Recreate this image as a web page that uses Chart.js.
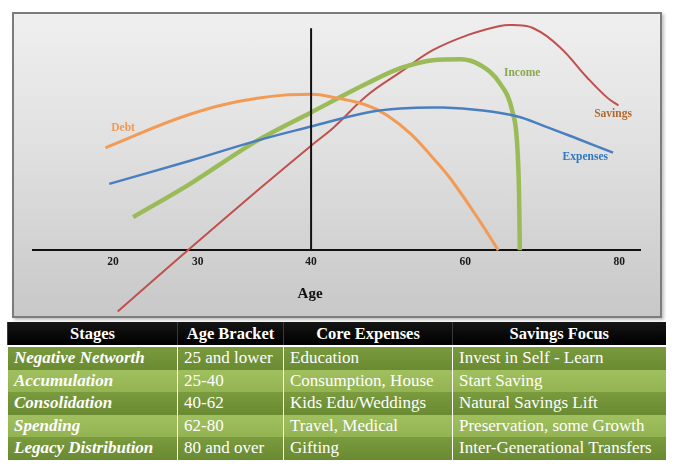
<!DOCTYPE html>
<html>
<head>
<meta charset="utf-8">
<script src="https://cdn.jsdelivr.net/npm/chart.js@4.4.1/dist/chart.umd.min.js"></script>
<style>
    html, body {
        margin: 0;
        padding: 0;
        background: #ffffff;
        width: 675px;
        height: 469px;
        overflow: hidden;
        position: relative;
    }
    .chart-box {
        position: absolute;
        left: 12px;
        top: 12px;
        width: 646px;
        height: 302px;
        border: 2px solid #7c7c7c;
        background: linear-gradient(to bottom, #efefef 0%, #e0e0e0 45%, #c8c8c8 100%);
        box-shadow: 2px 2px 3px rgba(0, 0, 0, 0.25);
    }
    #lifeChart {
        position: absolute;
        left: 0;
        top: 0;
    }
    table.stages {
        position: absolute;
        left: 7px;
        top: 322px;
        width: 658px;
        border-collapse: collapse;
        table-layout: fixed;
        font-family: "Liberation Serif", "DejaVu Serif", serif;
        font-size: 17px;
        color: #ffffff;
    }
    table.stages th {
        height: 23px;
        padding: 0;
        background: linear-gradient(to bottom, #141414, #000000);
        border-left: 1px solid #3a3a3a;
        border-bottom: 2px solid #ffffff;
        font-size: 16.5px;
        font-weight: bold;
        text-align: center;
        line-height: 23px;
    }
    table.stages td {
        height: 22.6px;
        padding: 0 0 0 6px;
        line-height: 22.6px;
        white-space: nowrap;
        overflow: hidden;
        border-left: 1px solid rgba(255, 255, 255, 0.18);
    }
    table.stages td:first-child {
        font-style: italic;
        font-weight: bold;
    }
    table.stages tr.dark td {
        background: linear-gradient(to bottom, #7a9a3e, #6a8a32);
    }
    table.stages tr.light td {
        background: linear-gradient(to bottom, #a0bf5f, #93b352);
    }
</style>
</head>
<body>
<div class="chart-box"></div>
<canvas id="lifeChart" width="675" height="322"></canvas>
<table class="stages" id="stagesTable">
    <colgroup>
        <col style="width:170px"><col style="width:106px"><col style="width:169px"><col style="width:213px">
    </colgroup>
    <thead></thead>
    <tbody></tbody>
</table>
<script>
// x axis ticks (age), placed where the original diagram puts them
const xTickValues = [14.3, 25.3, 40, 60, 80];
const xTickLabels = ['20', '30', '40', '60', '80'];
const xAxisTitle = 'Age';

// curves (age, relative level)
const savingsAge = [14.9, 24.0, 33, 40, 42.9, 47.3, 51.6, 55.8, 60.3, 64.5, 66.2, 68.8, 72.3, 75.8, 78.4, 79.9];
const savingsLevel = [-26.5, 0, 25.7, 45.2, 53, 67, 77, 86.5, 93, 97, 97.4, 96.1, 87.8, 74.8, 66.1, 62.6];

const incomeAge = [16.9, 24.3, 33, 40, 47.3, 51.6, 55.8, 59.4, 62, 64.5, 66.1, 66.75, 67.0, 67.1];
const incomeLevel = [14.3, 28.7, 47.4, 59.6, 72.2, 78.7, 82.2, 82.6, 80, 72.2, 60.4, 46.1, 24.3, 0];

const debtAge = [13.3, 24.3, 33, 40, 42.9, 47.3, 49.9, 52.9, 55.8, 58.1, 61.9, 64.3];
const debtLevel = [44.3, 58.8, 65.7, 67.4, 66.1, 62.6, 58.3, 50.4, 40, 30.9, 12.6, 0];

const expensesAge = [13.8, 24.3, 33, 40, 47.3, 51.6, 57.1, 62.3, 66.8, 70.1, 74.5, 79.2];
const expensesLevel = [28.7, 38.7, 47.4, 53.5, 59.6, 61.3, 61.7, 60.4, 57.8, 53.9, 48.3, 42.2];

// the vertical marker at age 40
const markerAge = [40, 40];
const markerLevel = [0, 96];

// table below the chart
const tableHeaders = ['Stages', 'Age Bracket', 'Core Expenses', 'Savings Focus'];
const stages = ['Negative Networth', 'Accumulation', 'Consolidation', 'Spending', 'Legacy Distribution'];
const ageBrackets = ['25 and lower', '25-40', '40-62', '62-80', '80 and over'];
const coreExpenses = ['Education', 'Consumption, House', 'Kids Edu/Weddings', 'Travel, Medical', 'Gifting'];
const savingsFocus = ['Invest in Self - Learn', 'Start Saving', 'Natural Savings Lift', 'Preservation, some Growth', 'Inter-Generational Transfers'];

const serif = '"Liberation Serif", "Times New Roman", serif';

function toPoints(xs, ys) {
    return xs.map((x, i) => ({ x: x, y: ys[i] }));
}

function curve(label, xs, ys, color, width, monotone) {
    return {
        label: label,
        data: toPoints(xs, ys),
        borderColor: color,
        backgroundColor: color,
        borderWidth: width,
        pointRadius: 0,
        tension: 0.4,
        cubicInterpolationMode: monotone ? 'monotone' : 'default',
        fill: false,
        clip: false
    };
}

// text labels next to each curve, given in data units
const curveLabels = [
    { text: 'Debt', x: 15.6, y: 53, color: '#f09a55' },
    { text: 'Income', x: 67.4, y: 76.5, color: '#8aa84f' },
    { text: 'Savings', x: 79.2, y: 59.1, color: '#b0692f' },
    { text: 'Expenses', x: 75.6, y: 40.4, color: '#2f78c0' }
];

const curveLabelPlugin = {
    id: 'curveLabels',
    afterDatasetsDraw: (chart) => {
        const { ctx } = chart;
        const xs = chart.scales.x;
        const ys = chart.scales.y;
        ctx.save();
        ctx.textAlign = 'center';
        ctx.textBaseline = 'middle';
        ctx.font = 'bold 11.5px ' + serif;
        curveLabels.forEach(l => {
            ctx.fillStyle = l.color;
            ctx.fillText(l.text, xs.getPixelForValue(l.x), ys.getPixelForValue(l.y));
        });
        // axis title sits under the age-40 marker, not centred on the axis
        ctx.font = 'bold 15px ' + serif;
        ctx.fillStyle = '#111111';
        ctx.fillText(xAxisTitle, xs.getPixelForValue(40) - 1, ys.getPixelForValue(-19.1));
        ctx.restore();
    }
};

const settings = {
    type: 'line',
    data: {
        datasets: [
            curve('Marker', markerAge, markerLevel, '#111111', 2, false),
            curve('Expenses', expensesAge, expensesLevel, '#4a7fbf', 2.5, false),
            curve('Debt', debtAge, debtLevel, '#f39b55', 3, false),
            curve('Income', incomeAge, incomeLevel, '#9bbb59', 4.5, true),
            curve('Savings', savingsAge, savingsLevel, '#c0504d', 2, false)
        ]
    },
    options: {
        responsive: false,
        animation: false,
        layout: {
            padding: { left: 33, right: 35, top: 19, bottom: 48 }
        },
        plugins: {
            legend: { display: false },
            tooltip: { enabled: false }
        },
        scales: {
            x: {
                type: 'linear',
                min: 3.9,
                max: 82.7,
                grid: { display: false, drawTicks: false },
                border: { display: true, color: '#111111', width: 2 },
                afterBuildTicks: (axis) => {
                    axis.ticks = xTickValues.map(v => ({ value: v }));
                },
                ticks: {
                    padding: 5,
                    autoSkip: false,
                    maxRotation: 0,
                    color: '#1a1a1a',
                    font: { family: serif, size: 11.5, weight: 'bold' },
                    callback: (value, index) => xTickLabels[index]
                }
            },
            y: {
                display: false,
                min: 0,
                max: 100
            }
        }
    },
    plugins: [curveLabelPlugin]
};

new Chart(document.getElementById('lifeChart').getContext('2d'), settings);

// build the table
const table = document.getElementById('stagesTable');
table.querySelector('thead').innerHTML = '<tr>' + tableHeaders.map(h => '<th>' + h + '</th>').join('') + '</tr>';
table.querySelector('tbody').innerHTML = stages.map((s, i) =>
    '<tr class="' + (i % 2 === 0 ? 'dark' : 'light') + '">' +
    '<td>' + s + '</td><td>' + ageBrackets[i] + '</td><td>' + coreExpenses[i] + '</td><td>' + savingsFocus[i] + '</td></tr>'
).join('');
</script>
</body>
</html>
